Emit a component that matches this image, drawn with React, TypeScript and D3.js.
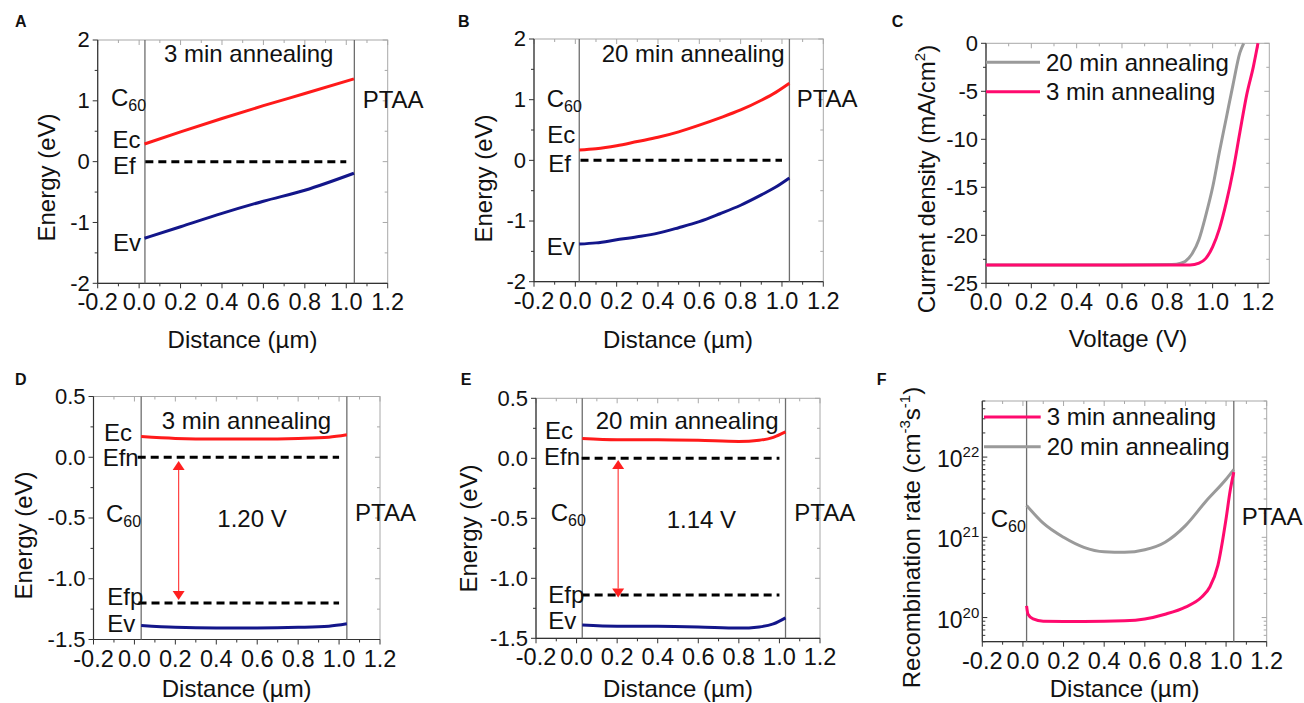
import * as d3 from "d3";

const FONT = "'Liberation Sans', Arial, Helvetica, sans-serif";
const RED = "#ff1a1a";
const NAVY = "#13168a";
const PINK = "#ff0a6e";
const GREY = "#9a9a9a";

// A: equilibrium bands, 3 min annealing
const distA = [0.026, 0.2, 0.4, 0.6, 0.8, 1.037];
const ecA = [0.29, 0.49, 0.71, 0.92, 1.12, 1.36];
const evA = [-1.26, -1.07, -0.85, -0.65, -0.47, -0.19];

// B: equilibrium bands, 20 min annealing
const distB = [0.019, 0.1, 0.2, 0.3, 0.4, 0.5, 0.6, 0.7, 0.8, 0.9, 0.97, 1.036];
const ecB = [0.17, 0.19, 0.24, 0.31, 0.38, 0.47, 0.58, 0.7, 0.83, 0.99, 1.12, 1.27];
const evB = [-1.38, -1.36, -1.31, -1.26, -1.2, -1.11, -1.01, -0.88, -0.74, -0.57, -0.44, -0.29];

// C: J-V curves
const voltage20 = [0, 0.2, 0.4, 0.6, 0.82, 0.86, 0.88, 0.91, 0.94, 0.97, 1.0, 1.03, 1.06, 1.09, 1.12, 1.137];
const current20 = [-23.1, -23.1, -23.1, -23.1, -23.05, -22.9, -22.7, -21.9, -20.4, -17.9, -15.0, -11.3, -7.8, -4.3, -1.0, 0];
const voltage3 = [0, 0.2, 0.4, 0.6, 0.8, 0.9, 0.94, 0.97, 1.0, 1.03, 1.06, 1.09, 1.12, 1.15, 1.18, 1.2];
const current3 = [-23.1, -23.1, -23.1, -23.1, -23.1, -23.1, -22.9, -22.4, -21.2, -19.3, -16.6, -13.3, -9.3, -5.4, -2.4, 0];

// D / E: bands under illumination at Voc
const distD = [0.033, 0.2, 0.4, 0.6, 0.8, 0.95, 1.038];
const ecD = [0.17, 0.155, 0.15, 0.15, 0.155, 0.165, 0.185];
const evD = [-1.385, -1.4, -1.405, -1.405, -1.4, -1.39, -1.37];
const distE = [0.028, 0.2, 0.4, 0.6, 0.8, 0.9, 0.97, 1.03];
const ecE = [0.165, 0.155, 0.155, 0.15, 0.14, 0.15, 0.175, 0.22];
const evE = [-1.39, -1.4, -1.4, -1.405, -1.415, -1.405, -1.38, -1.33];
const efpD = -1.2;
const efpE = -1.14;

// F: recombination rate
const distF20 = [0.018, 0.1, 0.2, 0.3, 0.4, 0.5, 0.6, 0.7, 0.8, 0.9, 1.0, 1.038];
const rate20 = [2.5e21, 1.5e21, 1.0e21, 7.5e20, 6.6e20, 6.5e20, 7.0e20, 8.7e20, 1.4e21, 2.8e21, 5.3e21, 7.0e21];
const distF3 = [0.018, 0.025, 0.05, 0.1, 0.3, 0.5, 0.6, 0.7, 0.8, 0.88, 0.92, 0.96, 1.0, 1.02, 1.038];
const rate3 = [1.4e20, 1.1e20, 9.6e19, 9.0e19, 8.9e19, 9.1e19, 9.6e19, 1.1e20, 1.35e20, 1.8e20, 2.4e20, 4.5e20, 1.7e21, 3.8e21, 6.5e21];

const distTicks = [-0.2, 0, 0.2, 0.4, 0.6, 0.8, 1.0, 1.2];
const distMinor = [-0.1, 0.1, 0.3, 0.5, 0.7, 0.9, 1.1];
const voltTicks = [0, 0.2, 0.4, 0.6, 0.8, 1.0, 1.2];
const voltMinor = [0.1, 0.3, 0.5, 0.7, 0.9, 1.1];

const f1 = (v: number) => v.toFixed(1);

function Frame({ x, y, xMajor, xMinor, yMajor, yMinor, fmtX, fmtY, yIn = false }: any) {
  const [L, R] = x.range();
  const [B, T] = y.range();
  const k = yIn ? 1 : -1;
  const frame = "#a8a8a8";
  const ax = "#333";
  return (
    <g>
      <rect x={L} y={T} width={R - L} height={B - T} fill="none" stroke={frame} strokeWidth={1} />
      {xMajor.map((v: number) => (
        <line key={"t" + v} x1={x(v)} x2={x(v)} y1={T} y2={T + 5} stroke={frame} />
      ))}
      {xMinor.map((v: number) => (
        <line key={"tm" + v} x1={x(v)} x2={x(v)} y1={T} y2={T + 3} stroke={frame} />
      ))}
      {yMajor.map((v: number) => (
        <line key={"r" + v} x1={R} x2={R - 5} y1={y(v)} y2={y(v)} stroke={frame} />
      ))}
      {yMinor.map((v: number) => (
        <line key={"rm" + v} x1={R} x2={R - 3} y1={y(v)} y2={y(v)} stroke={frame} />
      ))}
      <line x1={L} x2={R} y1={B} y2={B} stroke={ax} strokeWidth={1.2} />
      <line x1={L} x2={L} y1={T} y2={B} stroke={ax} strokeWidth={1.2} />
      {xMajor.map((v: number) => (
        <line key={"b" + v} x1={x(v)} x2={x(v)} y1={B} y2={B + 5} stroke={ax} />
      ))}
      {xMinor.map((v: number) => (
        <line key={"bm" + v} x1={x(v)} x2={x(v)} y1={B} y2={B + 3} stroke={ax} />
      ))}
      {yMajor.map((v: number) => (
        <line key={"l" + v} x1={L} x2={L + k * 5} y1={y(v)} y2={y(v)} stroke={ax} />
      ))}
      {yMinor.map((v: number) => (
        <line key={"lm" + v} x1={L} x2={L + k * 3} y1={y(v)} y2={y(v)} stroke={ax} />
      ))}
      {xMajor.map((v: number) => (
        <text key={"bx" + v} x={x(v)} y={B + 27} textAnchor="middle" fontSize={23.5}>
          {fmtX(v)}
        </text>
      ))}
      {yMajor.map((v: number) =>
        fmtY ? (
          <g key={"ly" + v}>{fmtY(v, L, y(v))}</g>
        ) : null
      )}
    </g>
  );
}

const yNum = (fmt: (v: number) => string) => (v: number, L: number, py: number) => (
  <text x={L - 8} y={py} dy="0.33em" textAnchor="end" fontSize={22}>
    {fmt(v)}
  </text>
);

const C60 = ({ x, y }: { x: number; y: number }) => (
  <text x={x} y={y} fontSize={24}>
    C<tspan fontSize={16} dy={5}>60</tspan>
  </text>
);

const T = ({ x, y, children, size = 24, anchor = "start" }: any) => (
  <text x={x} y={y} fontSize={size} textAnchor={anchor}>
    {children}
  </text>
);

const YTitle = ({ x, y, children }: any) => (
  <text transform={`translate(${x},${y}) rotate(-90)`} textAnchor="middle" fontSize={24}>
    {children}
  </text>
);

const Letter = ({ x, y, children }: any) => (
  <text x={x} y={y} fontSize={16} fontWeight="bold">
    {children}
  </text>
);

function bandLine(x: any, y: any, xs: number[], ys: number[]) {
  return d3
    .line<[number, number]>()
    .x((d) => x(d[0]))
    .y((d) => y(d[1]))
    .curve(d3.curveMonotoneX)(d3.zip(xs, ys) as [number, number][]) as string;
}

function Separators({ x, y, at }: any) {
  const [B, T] = y.range();
  return (
    <g>
      {at.map((v: number) => (
        <line key={v} x1={x(v)} x2={x(v)} y1={T} y2={B} stroke="#6e6e6e" strokeWidth={1.3} />
      ))}
    </g>
  );
}

function Arrow({ x, y, at, from, to }: any) {
  const px = x(at);
  const y1 = y(from);
  const y2 = y(to);
  const hl = 9;
  const hw = 6;
  return (
    <g fill="#ff2020" stroke="none">
      <line x1={px} x2={px} y1={y1 + hl} y2={y2 - hl} stroke="#ff4040" strokeWidth={1.2} />
      <polygon points={`${px},${y1} ${px - hw},${y1 + hl} ${px + hw},${y1 + hl}`} />
      <polygon points={`${px},${y2} ${px - hw},${y2 - hl} ${px + hw},${y2 - hl}`} />
    </g>
  );
}

const dash = { stroke: "#000", strokeWidth: 3, strokeDasharray: "8,5" };

export default function App() {
  // A
  const xA = d3.scaleLinear().domain([-0.2, 1.2]).range([97.7, 387.7]);
  const yA = d3.scaleLinear().domain([-2, 2]).range([283.3, 40]);
  // B
  const xB = d3.scaleLinear().domain([-0.2, 1.2]).range([534, 823.3]);
  const yB = d3.scaleLinear().domain([-2, 2]).range([281.7, 39]);
  // C
  const xC = d3.scaleLinear().domain([0, 1.25]).range([986, 1269.3]);
  const yC = d3.scaleLinear().domain([-25, 0]).range([283.3, 43.3]);
  // D
  const xD = d3.scaleLinear().domain([-0.2, 1.2]).range([93.5, 380]);
  const yD = d3.scaleLinear().domain([-1.5, 0.5]).range([639.5, 396.5]);
  // E
  const xE = d3.scaleLinear().domain([-0.2, 1.2]).range([536, 820]);
  const yE = d3.scaleLinear().domain([-1.5, 0.5]).range([638.3, 398.3]);
  // F
  const xF = d3.scaleLinear().domain([-0.2, 1.2]).range([982.3, 1266.7]);
  const yF = d3.scaleLog().domain([5e19, 5e22]).range([641.7, 401]);

  const eTicks = [-2, -1, 0, 1, 2];
  const eMinor = [-1.5, -0.5, 0.5, 1.5];
  const e2Ticks = [-1.5, -1, -0.5, 0, 0.5];
  const e2Minor = [-1.25, -0.75, -0.25, 0.25];
  const jTicks = [-25, -20, -15, -10, -5, 0];
  const jMinor = [-22.5, -17.5, -12.5, -7.5, -2.5];
  const rTicks = [1e20, 1e21, 1e22];
  const rMinor: number[] = [];
  [1e19, 1e20, 1e21, 1e22].forEach((d) => {
    for (let m = 2; m <= 9; m++) {
      const v = d * m;
      if (v >= 5e19 && v <= 5e22) rMinor.push(v);
    }
  });

  const jv = d3
    .line<[number, number]>()
    .x((d) => xC(d[0]))
    .y((d) => yC(d[1]))
    .curve(d3.curveMonotoneX);
  const rl = d3
    .line<[number, number]>()
    .x((d) => xF(d[0]))
    .y((d) => yF(d[1]))
    .curve(d3.curveMonotoneX);

  const logLabel = (v: number, L: number, py: number) => (
    <text x={L - 3} y={py + 10} textAnchor="end" fontSize={23}>
      10<tspan fontSize={15} dy={-10}>{Math.round(Math.log10(v))}</tspan>
    </text>
  );

  return (
    <div style={{ position: "absolute", left: 0, top: 0 }}>
      <svg width={1304} height={703} style={{ display: "block", background: "#fff" }} fontFamily={FONT} fill="#111">
        {/* ---------- A ---------- */}
        <Letter x={15} y={27}>A</Letter>
        <Frame x={xA} y={yA} xMajor={distTicks} xMinor={distMinor} yMajor={eTicks} yMinor={eMinor} fmtX={f1} fmtY={yNum((v) => String(v))} />
        <Separators x={xA} y={yA} at={[0.028, 1.039]} />
        <line x1={xA(0.03)} x2={xA(1.0)} y1={yA(0)} y2={yA(0)} {...dash} />
        <path d={bandLine(xA, yA, distA, ecA)} fill="none" stroke={RED} strokeWidth={3} />
        <path d={bandLine(xA, yA, distA, evA)} fill="none" stroke={NAVY} strokeWidth={3} />
        <T x={164} y={62}>3 min annealing</T>
        <C60 x={111} y={106} />
        <T x={112.5} y={148}>Ec</T>
        <T x={113} y={174}>Ef</T>
        <T x={113} y={250.5}>Ev</T>
        <T x={362.7} y={107.7}>PTAA</T>
        <YTitle x={55} y={177.5}>Energy (eV)</YTitle>
        <T x={242.5} y={348} anchor="middle">Distance (µm)</T>

        {/* ---------- B ---------- */}
        <Letter x={458} y={26.7}>B</Letter>
        <Frame x={xB} y={yB} xMajor={distTicks} xMinor={distMinor} yMajor={eTicks} yMinor={eMinor} fmtX={f1} fmtY={yNum((v) => String(v))} />
        <Separators x={xB} y={yB} at={[0.019, 1.036]} />
        <line x1={xB(0.025)} x2={xB(1.0)} y1={yB(0)} y2={yB(0)} {...dash} />
        <path d={bandLine(xB, yB, distB, ecB)} fill="none" stroke={RED} strokeWidth={3} />
        <path d={bandLine(xB, yB, distB, evB)} fill="none" stroke={NAVY} strokeWidth={3} />
        <T x={601.7} y={61.7}>20 min annealing</T>
        <C60 x={546.7} y={107.3} />
        <T x={547.3} y={142.7}>Ec</T>
        <T x={548.3} y={171.7}>Ef</T>
        <T x={546.7} y={255}>Ev</T>
        <T x={796.7} y={107.3}>PTAA</T>
        <YTitle x={492} y={178.5}>Energy (eV)</YTitle>
        <T x={678} y={348} anchor="middle">Distance (µm)</T>

        {/* ---------- C ---------- */}
        <Letter x={891.7} y={27}>C</Letter>
        <Frame x={xC} y={yC} xMajor={voltTicks} xMinor={voltMinor} yMajor={jTicks} yMinor={jMinor} fmtX={f1} fmtY={yNum((v) => String(v))} />
        <path d={jv(d3.zip(voltage20, current20) as [number, number][]) as string} fill="none" stroke={GREY} strokeWidth={3} />
        <path d={jv(d3.zip(voltage3, current3) as [number, number][]) as string} fill="none" stroke={PINK} strokeWidth={3} />
        <line x1={986} x2={1040} y1={62.3} y2={62.3} stroke={GREY} strokeWidth={3} />
        <T x={1046} y={70.7}>20 min annealing</T>
        <line x1={986} x2={1040} y1={91.7} y2={91.7} stroke={PINK} strokeWidth={3} />
        <T x={1046} y={100}>3 min annealing</T>
        <YTitle x={935} y={179}>
          Current density (mA/cm<tspan fontSize={15} dy={-10}>2</tspan>
          <tspan dy={10}>)</tspan>
        </YTitle>
        <T x={1128} y={347} anchor="middle">Voltage (V)</T>

        {/* ---------- D ---------- */}
        <Letter x={15} y={385}>D</Letter>
        <Frame x={xD} y={yD} xMajor={distTicks} xMinor={distMinor} yMajor={e2Ticks} yMinor={e2Minor} fmtX={f1} fmtY={yNum(f1)} />
        <Separators x={xD} y={yD} at={[0.033, 1.038]} />
        <line x1={xD(0.016)} x2={xD(1.0)} y1={yD(0)} y2={yD(0)} {...dash} />
        <line x1={xD(0.02)} x2={xD(1.0)} y1={yD(efpD)} y2={yD(efpD)} {...dash} />
        <path d={bandLine(xD, yD, distD, ecD)} fill="none" stroke={RED} strokeWidth={3} />
        <path d={bandLine(xD, yD, distD, evD)} fill="none" stroke={NAVY} strokeWidth={3} />
        <Arrow x={xD} y={yD} at={0.216} from={-0.03} to={-1.175} />
        <T x={161.7} y={429}>3 min annealing</T>
        <T x={104} y={440.7}>Ec</T>
        <T x={102.7} y={465.7}>Efn</T>
        <C60 x={106} y={521.7} />
        <T x={217.3} y={526.7}>1.20 V</T>
        <T x={355} y={521}>PTAA</T>
        <T x={107.3} y={605}>Efp</T>
        <T x={107.3} y={631.7}>Ev</T>
        <YTitle x={32} y={535.5}>Energy (eV)</YTitle>
        <T x={236.7} y={697} anchor="middle">Distance (µm)</T>

        {/* ---------- E ---------- */}
        <Letter x={460.7} y={385}>E</Letter>
        <Frame x={xE} y={yE} xMajor={distTicks} xMinor={distMinor} yMajor={e2Ticks} yMinor={e2Minor} fmtX={f1} fmtY={yNum(f1)} />
        <Separators x={xE} y={yE} at={[0.028, 1.03]} />
        <line x1={xE(0.025)} x2={xE(1.0)} y1={yE(0)} y2={yE(0)} {...dash} />
        <line x1={xE(0.025)} x2={xE(1.0)} y1={yE(efpE)} y2={yE(efpE)} {...dash} />
        <path d={bandLine(xE, yE, distE, ecE)} fill="none" stroke={RED} strokeWidth={3} />
        <path d={bandLine(xE, yE, distE, evE)} fill="none" stroke={NAVY} strokeWidth={3} />
        <Arrow x={xE} y={yE} at={0.205} from={-0.015} to={-1.16} />
        <T x={595.7} y={429}>20 min annealing</T>
        <T x={545} y={439}>Ec</T>
        <T x={544} y={465}>Efn</T>
        <C60 x={550.7} y={520.7} />
        <T x={666.7} y={528.3}>1.14 V</T>
        <T x={794.3} y={520.7}>PTAA</T>
        <T x={548.3} y={603.3}>Efp</T>
        <T x={548.3} y={629.3}>Ev</T>
        <YTitle x={477} y={528.5}>Energy (eV)</YTitle>
        <T x={678} y={697} anchor="middle">Distance (µm)</T>

        {/* ---------- F ---------- */}
        <Letter x={876.7} y={385}>F</Letter>
        <Frame x={xF} y={yF} xMajor={distTicks} xMinor={distMinor} yMajor={rTicks} yMinor={rMinor} fmtX={f1} fmtY={logLabel} yIn />
        <Separators x={xF} y={yF} at={[0.018, 1.038]} />
        <path d={rl(d3.zip(distF20, rate20) as [number, number][]) as string} fill="none" stroke={GREY} strokeWidth={3} />
        <path d={rl(d3.zip(distF3, rate3) as [number, number][]) as string} fill="none" stroke={PINK} strokeWidth={3} />
        <line x1={984} x2={1040.7} y1={417} y2={417} stroke={PINK} strokeWidth={3} />
        <T x={1046.7} y={425}>3 min annealing</T>
        <line x1={984} x2={1040.7} y1={446.7} y2={446.7} stroke={GREY} strokeWidth={3} />
        <T x={1046.7} y={455}>20 min annealing</T>
        <C60 x={990.7} y={527} />
        <T x={1241.7} y={525}>PTAA</T>
        <YTitle x={920} y={537.5}>
          Recombination rate (cm<tspan fontSize={15} dy={-10}>-3</tspan>
          <tspan dy={10}>s</tspan>
          <tspan fontSize={15} dy={-10}>-1</tspan>
          <tspan dy={10}>)</tspan>
        </YTitle>
        <T x={1124.7} y={697} anchor="middle">Distance (µm)</T>
      </svg>
    </div>
  );
}
